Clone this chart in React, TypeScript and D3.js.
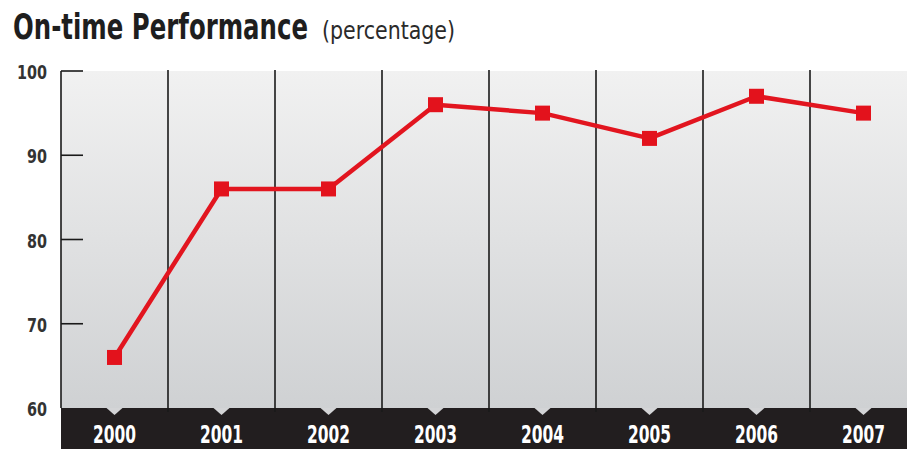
import React from "react";
import * as d3 from "d3";

const years = ["2000", "2001", "2002", "2003", "2004", "2005", "2006", "2007"];
const values = [66, 86, 86, 96, 95, 92, 97, 95];
const yTicks = [60, 70, 80, 90, 100];

export default function App() {
  const W = 907, H = 454;
  const left = 61, right = 917, top = 71, bottom = 408, bandH = 41;
  const x = d3.scaleBand<string>().domain(years).range([left, right]);
  const y = d3.scaleLinear().domain([60, 100]).range([bottom, top]);
  const line = d3.line<number>()
    .x((_, i) => (x(years[i]) as number) + x.bandwidth() / 2)
    .y((d) => y(d));
  const font = "'DejaVu Sans', 'Liberation Sans', sans-serif";
  const boundaries = years.slice(1).map((yr) => x(yr) as number);
  return (
    <svg width={W} height={H} style={{ position: "absolute", left: 0, top: 0, background: "#fff" }}>
      <defs>
        <linearGradient id="bg" x1="0" y1="0" x2="0" y2="1">
          <stop offset="0" stopColor="#f1f1f1" />
          <stop offset="1" stopColor="#cfd1d3" />
        </linearGradient>
      </defs>
      <text x={13} y={39} fontFamily={font} fontWeight="bold" fontSize={35} fill="#1e1e1e" textLength={295} lengthAdjust="spacingAndGlyphs">
        On-time Performance
      </text>
      <text x={322} y={39} fontFamily={font} fontSize={25} fill="#2a2a2a" textLength={133} lengthAdjust="spacingAndGlyphs">
        (percentage)
      </text>
      <rect x={left} y={top} width={W - left} height={bottom - top} fill="url(#bg)" />
      <rect x={left} y={bottom} width={W - left} height={bandH} fill="#221e1f" />
      {years.map((yr) => {
        const cx = (x(yr) as number) + x.bandwidth() / 2;
        return (
          <path key={"n" + yr} d={`M${cx - 8},${bottom} L${cx + 8},${bottom} L${cx},${bottom + 7} Z`} fill="#d3d4d6" />
        );
      })}
      {boundaries.map((bx, i) => (
        <line key={"g" + i} x1={bx} x2={bx} y1={top - 1} y2={bottom + 4} stroke="#1a1a1a" strokeWidth={1.6} />
      ))}
      <line x1={left} x2={left} y1={top} y2={bottom} stroke="#1a1a1a" strokeWidth={1.6} />
      {yTicks.map((t) => (
        <g key={"t" + t}>
          {t > 60 && <line x1={left} x2={left + 22} y1={y(t)} y2={y(t)} stroke="#1a1a1a" strokeWidth={1.6} />}
          <text x={47} y={y(t) + 8} textAnchor="end" fontFamily={font} fontWeight="bold" fontSize={20} fill="#333"
            textLength={t === 100 ? 30 : 20} lengthAdjust="spacingAndGlyphs">
            {t}
          </text>
        </g>
      ))}
      <path d={line(values) || ""} fill="none" stroke="#e2151f" strokeWidth={4.5} strokeLinejoin="round" />
      {values.map((v, i) => {
        const cx = (x(years[i]) as number) + x.bandwidth() / 2;
        return <rect key={"m" + i} x={cx - 7.5} y={y(v) - 7.5} width={15} height={15} fill="#e3121c" />;
      })}
      {years.map((yr) => {
        const cx = (x(yr) as number) + x.bandwidth() / 2;
        return (
          <text key={"l" + yr} x={cx} y={443} textAnchor="middle" fontFamily={font} fontWeight="bold" fontSize={24} fill="#fff"
            textLength={43} lengthAdjust="spacingAndGlyphs">
            {yr}
          </text>
        );
      })}
    </svg>
  );
}
